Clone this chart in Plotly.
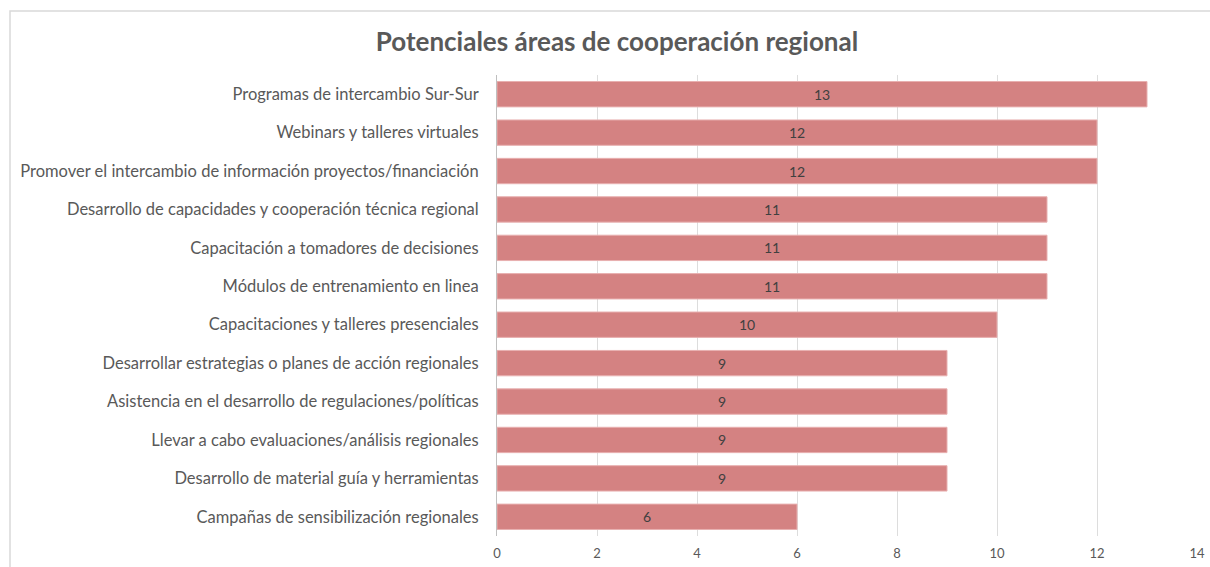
import plotly.graph_objects as go

categories = [
    "Programas de intercambio Sur-Sur",
    "Webinars y talleres virtuales",
    "Promover el intercambio de información proyectos/financiación",
    "Desarrollo de capacidades y cooperación técnica regional",
    "Capacitación a tomadores de decisiones",
    "Módulos de entrenamiento en linea",
    "Capacitaciones y talleres presenciales",
    "Desarrollar estrategias o planes de acción regionales",
    "Asistencia en el desarrollo de regulaciones/políticas",
    "Llevar a cabo evaluaciones/análisis regionales",
    "Desarrollo de material guía y herramientas",
    "Campañas de sensibilización regionales",
]
values = [13, 12, 12, 11, 11, 11, 10, 9, 9, 9, 9, 6]
x_ticks = [0, 2, 4, 6, 8, 10, 12, 14]

W, H = 1210, 567
L, R, T, B = 497, 13, 75, 31
pw, ph = W - L - R, H - T - B

def px_x(p):
    return (p - L) / pw

def px_y(p):
    return (H - B - p) / ph

fig = go.Figure(go.Bar(
    y=categories,
    x=values,
    orientation="h",
    marker=dict(color="#D48282", line=dict(color="#E8B0B0", width=1)),
    text=[str(v) for v in values],
    textposition="inside",
    insidetextanchor="middle",
    textfont=dict(family="Lato, sans-serif", size=14, color="#404040"),
    hoverinfo="skip",
))

fig.update_layout(
    width=W, height=H,
    margin=dict(l=L, r=R, t=T, b=B, autoexpand=False),
    paper_bgcolor="white",
    plot_bgcolor="white",
    bargap=0.34,
    showlegend=False,
    title=dict(
        text="<b>Potenciales áreas de cooperación regional</b>",
        x=617 / W, xanchor="center", xref="container",
        y=1 - 42 / H, yanchor="middle", yref="container",
        font=dict(family="Lato, Open Sans, sans-serif", size=26, color="#595959"),
    ),
    xaxis=dict(
        range=[0, 14],
        tickvals=x_ticks,
        showgrid=True, gridcolor="#DDDDDD", gridwidth=1,
        zeroline=False,
        showline=False,
        automargin=False,
        tickfont=dict(family="Lato, sans-serif", size=13, color="#595959"),
        ticks="",
        ticklabelstandoff=8,
    ),
    yaxis=dict(
        autorange="reversed",
        showline=True, linecolor="#BFBFBF", linewidth=1,
        automargin=False,
        ticks="",
        ticklabelstandoff=14,
        tickfont=dict(family="Lato, sans-serif", size=16.5, color="#595959"),
    ),
    shapes=[
        dict(type="rect", xref="paper", yref="paper",
             x0=px_x(10), x1=px_x(1240), y0=px_y(600), y1=px_y(11),
             line=dict(color="#D9D9D9", width=1.5), fillcolor="rgba(0,0,0,0)",
             layer="below"),
    ],
)

fig.write_html(
    "out.html",
    config={"displayModeBar": False},
    post_script="document.body.style.margin='0';document.body.style.overflow='hidden';",
)
